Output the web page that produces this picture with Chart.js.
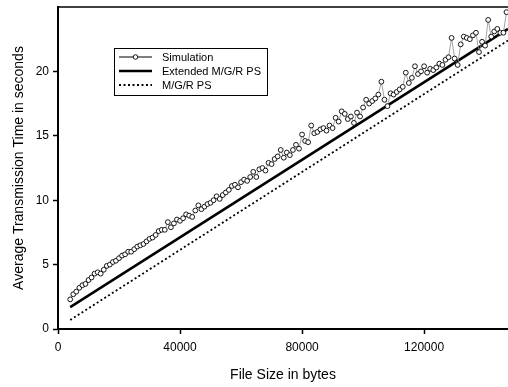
<!DOCTYPE html>
<html>
<head>
<meta charset="utf-8">
<script src="https://cdn.jsdelivr.net/npm/chart.js@4.4.1/dist/chart.umd.min.js"></script>
<style>
  html, body { margin: 0; padding: 0; background: #fff; }
  #wrap { width: 508px; height: 387px; }
</style>
</head>
<body>
<div id="wrap"><canvas id="chart" width="508" height="387"></canvas></div>
<script>
// File sizes (bytes) of the simulation runs
const simSizes = [
  4000, 5000, 6000, 7000, 8000, 9000, 10000, 11000, 12000, 13000, 14000, 15000,
  16000, 17000, 18000, 19000, 20000, 21000, 22000, 23000, 24000, 25000, 26000, 27000,
  28000, 29000, 30000, 31000, 32000, 33000, 34000, 35000, 36000, 37000, 38000, 39000,
  40000, 41000, 42000, 43000, 44000, 45000, 46000, 47000, 48000, 49000, 50000, 51000,
  52000, 53000, 54000, 55000, 56000, 57000, 58000, 59000, 60000, 61000, 62000, 63000,
  64000, 65000, 66000, 67000, 68000, 69000, 70000, 71000, 72000, 73000, 74000, 75000,
  76000, 77000, 78000, 79000, 80000, 81000, 82000, 83000, 84000, 85000, 86000, 87000,
  88000, 89000, 90000, 91000, 92000, 93000, 94000, 95000, 96000, 97000, 98000, 99000,
  100000, 101000, 102000, 103000, 104000, 105000, 106000, 107000, 108000, 109000, 110000, 111000,
  112000, 113000, 114000, 115000, 116000, 117000, 118000, 119000, 120000, 121000, 122000, 123000,
  124000, 125000, 126000, 127000, 128000, 129000, 130000, 131000, 132000, 133000, 134000, 135000,
  136000, 137000, 138000, 139000, 140000, 141000, 142000, 143000, 144000, 145000, 146000, 147000
];
// Average transmission time (s), simulation
const simTimes = [
  2.3, 2.7, 2.9, 3.2, 3.4, 3.5, 3.8, 4.0, 4.3, 4.4, 4.3, 4.6,
  4.9, 5.0, 5.2, 5.3, 5.5, 5.7, 5.8, 6.0, 6.0, 6.2, 6.4, 6.5,
  6.6, 6.8, 7.0, 7.1, 7.3, 7.6, 7.7, 7.7, 8.3, 7.9, 8.2, 8.5,
  8.4, 8.6, 8.9, 8.8, 8.7, 9.2, 9.6, 9.3, 9.5, 9.7, 9.8, 10.0,
  10.3, 10.1, 10.4, 10.6, 10.8, 11.1, 11.2, 11.0, 11.4, 11.6, 11.5, 11.8,
  12.2, 11.8, 12.4, 12.5, 12.3, 12.9, 12.8, 13.2, 13.4, 13.9, 13.3, 13.7,
  13.5, 13.9, 14.3, 14.0, 15.1, 14.6, 14.5, 15.8, 15.2, 15.3, 15.5, 15.6,
  15.4, 15.8, 15.6, 16.4, 16.1, 16.9, 16.7, 16.3, 16.5, 16.0, 16.8, 16.5,
  17.2, 17.8, 17.5, 17.7, 17.9, 18.2, 19.2, 17.8, 17.3, 18.3, 18.2, 18.4,
  18.6, 18.8, 19.9, 19.1, 19.5, 20.4, 19.8, 20.0, 20.4, 19.9, 20.2, 20.1,
  20.3, 20.6, 20.5, 20.9, 21.1, 22.6, 21.0, 20.5, 22.1, 22.7, 22.6, 22.5,
  22.8, 23.0, 21.5, 22.3, 22.0, 24.0, 22.7, 23.1, 23.3, 23.0, 23.0, 24.6
];
// Analytical models (straight lines)
const extSizes = [4000, 147500];
const extTimes = [1.7, 23.3];
const mgrSizes = [4000, 147500];
const mgrTimes = [0.7, 22.4];

const xTicks = [0, 40000, 80000, 120000];
const yTicks = [0, 5, 10, 15, 20];

const pairs = (xs, ys) => xs.map((x, i) => ({ x: x, y: ys[i] }));

// Frame line on top + boxed legend
const framePlugin = {
  id: "frame",
  afterDraw(chart) {
    const { ctx, chartArea: a } = chart;
    ctx.save();
    ctx.strokeStyle = "#000";
    ctx.lineWidth = 1.5;
    ctx.beginPath();
    ctx.moveTo(a.left, a.top);
    ctx.lineTo(a.right, a.top);
    ctx.stroke();

    // legend box
    const bx = 114, by = 48, bw = 153, bh = 47;
    ctx.fillStyle = "#fff";
    ctx.fillRect(bx, by, bw, bh);
    ctx.lineWidth = 1;
    ctx.strokeRect(bx + 0.5, by + 0.5, bw, bh);

    const rows = [57, 71, 85];
    ctx.font = "11px 'Liberation Sans', Arial, sans-serif";
    ctx.textBaseline = "middle";
    chart.data.datasets.forEach((ds, i) => {
      const y = rows[i];
      ctx.strokeStyle = "#000";
      ctx.lineWidth = i === 0 ? 1.2 : ds.borderWidth;
      ctx.setLineDash(ds.borderDash || []);
      ctx.beginPath();
      ctx.moveTo(119, y);
      ctx.lineTo(152, y);
      ctx.stroke();
      ctx.setLineDash([]);
      if (i === 0) {
        ctx.beginPath();
        ctx.arc(135.5, y, 2.3, 0, Math.PI * 2);
        ctx.fillStyle = "#fff";
        ctx.fill();
        ctx.lineWidth = 0.9;
        ctx.stroke();
      }
      ctx.fillStyle = "#000";
      ctx.fillText(ds.label, 162, y + 0.5);
    });
    ctx.restore();
  }
};

const tickFont = { family: "'Liberation Sans', Arial, sans-serif", size: 12 };
const titleFont = { family: "'Liberation Sans', Arial, sans-serif", size: 14 };

new Chart(document.getElementById("chart"), {
  type: "scatter",
  data: {
    datasets: [
      {
        label: "Simulation",
        data: pairs(simSizes, simTimes),
        showLine: true,
        borderColor: "#8a8a8a",
        borderWidth: 0.8,
        pointRadius: 2.4,
        pointBorderWidth: 0.9,
        pointBorderColor: "#000",
        pointBackgroundColor: "#fff",
        order: 0
      },
      {
        label: "Extended M/G/R PS",
        data: pairs(extSizes, extTimes),
        showLine: true,
        borderColor: "#000",
        borderWidth: 2.5,
        pointRadius: 0,
        order: 1
      },
      {
        label: "M/G/R PS",
        data: pairs(mgrSizes, mgrTimes),
        showLine: true,
        borderColor: "#000",
        borderWidth: 1.8,
        borderDash: [2, 2.5],
        pointRadius: 0,
        order: 2
      }
    ]
  },
  options: {
    responsive: false,
    animation: false,
    layout: { autoPadding: false, padding: { top: 7, right: 0, left: 0, bottom: 0 } },
    plugins: {
      legend: { display: false },
      tooltip: { enabled: false }
    },
    scales: {
      x: {
        type: "linear",
        min: 0,
        max: 147500,
        afterBuildTicks: s => { s.ticks = xTicks.map(v => ({ value: v })); },
        afterFit: s => { s.height = 58; s.paddingLeft = 0; s.paddingRight = 0; },
        ticks: { color: "#000", font: tickFont, padding: 6, maxRotation: 0, callback: v => String(v) },
        grid: { drawOnChartArea: false, drawTicks: true, tickLength: 5, tickWidth: 1.5, color: "#000" },
        border: { display: true, color: "#000", width: 2 },
        title: { display: true, text: "File Size in bytes", color: "#000", font: titleFont, padding: { top: 0, bottom: 3 } }
      },
      y: {
        min: 0,
        max: 25,
        afterBuildTicks: s => { s.ticks = yTicks.map(v => ({ value: v })); },
        afterFit: s => { s.width = 58; s.paddingTop = 0; s.paddingBottom = 0; },
        ticks: { color: "#000", font: tickFont, padding: 4 },
        grid: { drawOnChartArea: false, drawTicks: true, tickLength: 5, tickWidth: 1.5, color: "#000" },
        border: { display: true, color: "#000", width: 2 },
        title: { display: true, text: "Average Transmission Time in seconds", color: "#000", font: titleFont, padding: { top: 11, bottom: 0 } }
      }
    }
  },
  plugins: [framePlugin]
});
</script>
</body>
</html>
